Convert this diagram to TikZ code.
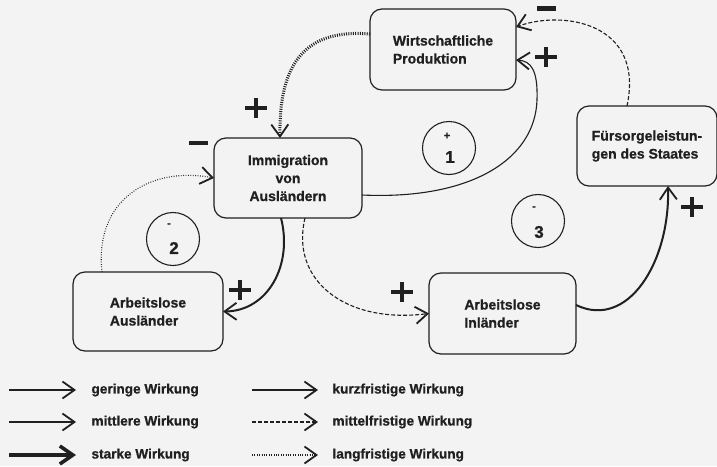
\documentclass[tikz,border=0pt]{standalone}
\usepackage{fontspec}
\setmainfont{Liberation Sans}[BoldFeatures={FakeBold=0.8}]
\usetikzlibrary{arrows.meta}
\definecolor{paper}{RGB}{243,243,243}
\definecolor{ink}{RGB}{32,32,32}
\begin{document}
\begin{tikzpicture}[x=1pt,y=-1pt,
  every node/.style={text=ink, font=\fontsize{14}{18}\selectfont\bfseries},
  box/.style={draw=ink, line width=1.2pt, rounded corners=12pt,
    inner sep=0pt, outer sep=0pt, align=center},
  boxl/.style={box, align=left},
  loopc/.style={draw=ink, line width=1.1pt, circle, minimum size=53pt,
    inner sep=0pt},
  vtip/.style={-{Straight Barb[length=12pt,width=17pt,line width=1.8pt]}},
  conn/.style={draw=ink, vtip, line width=1.1pt},
  medl/.style={line width=2pt},
  heavyl/.style={line width=4pt,
    -{Straight Barb[length=13pt,width=18pt,line width=3.6pt]}},
  dashl/.style={dash pattern=on 4pt off 2pt},
  dotl/.style={dash pattern=on 0.8pt off 1.6pt},
  heavydot/.style={line width=3pt, dash pattern=on 1pt off 1.3pt},
  legtext/.style={anchor=west, font=\fontsize{13.6}{16}\selectfont\bfseries},
  signs/.style={font=\fontsize{11}{11}\selectfont\bfseries},
  loopnum/.style={font=\fontsize{17}{17}\selectfont\bfseries},
  bigplus/.pic={\fill[ink] (-11,-2.4) rectangle (11,2.4);
                \fill[ink] (-2.4,-10) rectangle (2.4,10);},
  bigminus/.pic={\fill[ink] (-9.5,-2.2) rectangle (9.5,2.2);}
]
% paper
\fill[paper] (0,0) rectangle (717,466);
\useasboundingbox (0,0) rectangle (717,466);

% variables of the system
\node[boxl, minimum width=146pt, minimum height=81pt] (wp) at (443,49.5)
  {Wirtschaftliche\\Produktion};
\node[box, minimum width=148pt, minimum height=80pt] (imm) at (288,178)
  {Immigration\\von\\Ausländern};
\node[boxl, minimum width=140pt, minimum height=80pt] (fue) at (647,146)
  {Fürsorgeleistun-\\gen des Staates};
\node[boxl, minimum width=150pt, minimum height=79pt] (aa) at (148,311.5)
  {Arbeitslose\\Ausländer};
\node[boxl, minimum width=147pt, minimum height=81pt] (ai) at (502.5,313.5)
  {Arbeitslose\\Inländer};

% feedback loops
\node[loopc] (l1) at (449,148) {};
\node[signs] (l1s) at (447,136) {+};
\node[loopnum] (l1n) at (450,157) {1};
\node[loopc] (l2) at (173,239) {};
\node[signs] (l2s) at (169,225) {-};
\node[loopnum] (l2n) at (174,248) {2};
\node[loopc] (l3) at (538,221) {};
\node[signs] (l3s) at (534,208) {-};
\node[loopnum] (l3n) at (539,232) {3};

% effects
\draw[conn, heavydot] ([yshift=15.5pt]wp.west)
  .. controls (300,28) and (279,70) .. ([xshift=-8pt]imm.north);
\draw[conn, dotl] ([xshift=-46pt]aa.north)
  .. controls (94,200) and (150,166) .. (imm.west);
\draw[conn, medl] ([xshift=-7pt]imm.south)
  .. controls (293,265) and (268,311) .. (aa.east);
\draw[conn, dashl] ([xshift=17pt]imm.south)
  .. controls (290,280) and (345,324) .. (ai.west);
\draw[conn, medl] ([yshift=8.5pt]ai.east)
  .. controls (628,330) and (670,262) .. ([xshift=21pt]fue.south);
\draw[conn, dashl] ([xshift=-20pt]fue.north)
  .. controls (645,22) and (562,10) .. ([yshift=22.5pt]wp.east);
\draw[conn] ([yshift=-17pt]imm.east)
  .. controls (470,200) and (535,160) .. (537,100)
  .. controls (538,70) and (531,61) .. ([yshift=-10.5pt]wp.east);

% polarities
\pic at (546,8.5) {bigminus};
\pic at (546,57) {bigplus};
\pic at (256,108) {bigplus};
\pic at (198,143) {bigminus};
\pic at (240,290) {bigplus};
\pic at (402,292) {bigplus};
\pic at (692,207) {bigplus};

% legend: strength
\coordinate (a1s) at (9,390);  \coordinate (a1e) at (76,390);
\coordinate (a2s) at (9,422);  \coordinate (a2e) at (76,422);
\coordinate (a3s) at (9,455);  \coordinate (a3e) at (76,455);
\draw[conn] (a1s) -- (a1e);
\draw[conn, medl] (a2s) -- (a2e);
\draw[conn, heavyl] (a3s) -- (a3e);
\node[legtext] (t1) at (88,390) {geringe Wirkung};
\node[legtext] (t2) at (88,422) {mittlere Wirkung};
\node[legtext] (t3) at (88,455) {starke Wirkung};

% legend: time horizon
\coordinate (b1s) at (252,390); \coordinate (b1e) at (318,390);
\coordinate (b2s) at (252,422); \coordinate (b2e) at (318,422);
\coordinate (b3s) at (252,455); \coordinate (b3e) at (318,455);
\draw[conn] (b1s) -- (b1e);
\draw[conn, dashl] (b2s) -- (b2e);
\draw[conn, dotl] (b3s) -- (b3e);
\node[legtext] (u1) at (329,390) {kurzfristige Wirkung};
\node[legtext] (u2) at (329,422) {mittelfristige Wirkung};
\node[legtext] (u3) at (329,455) {langfristige Wirkung};
\end{tikzpicture}
\end{document}
